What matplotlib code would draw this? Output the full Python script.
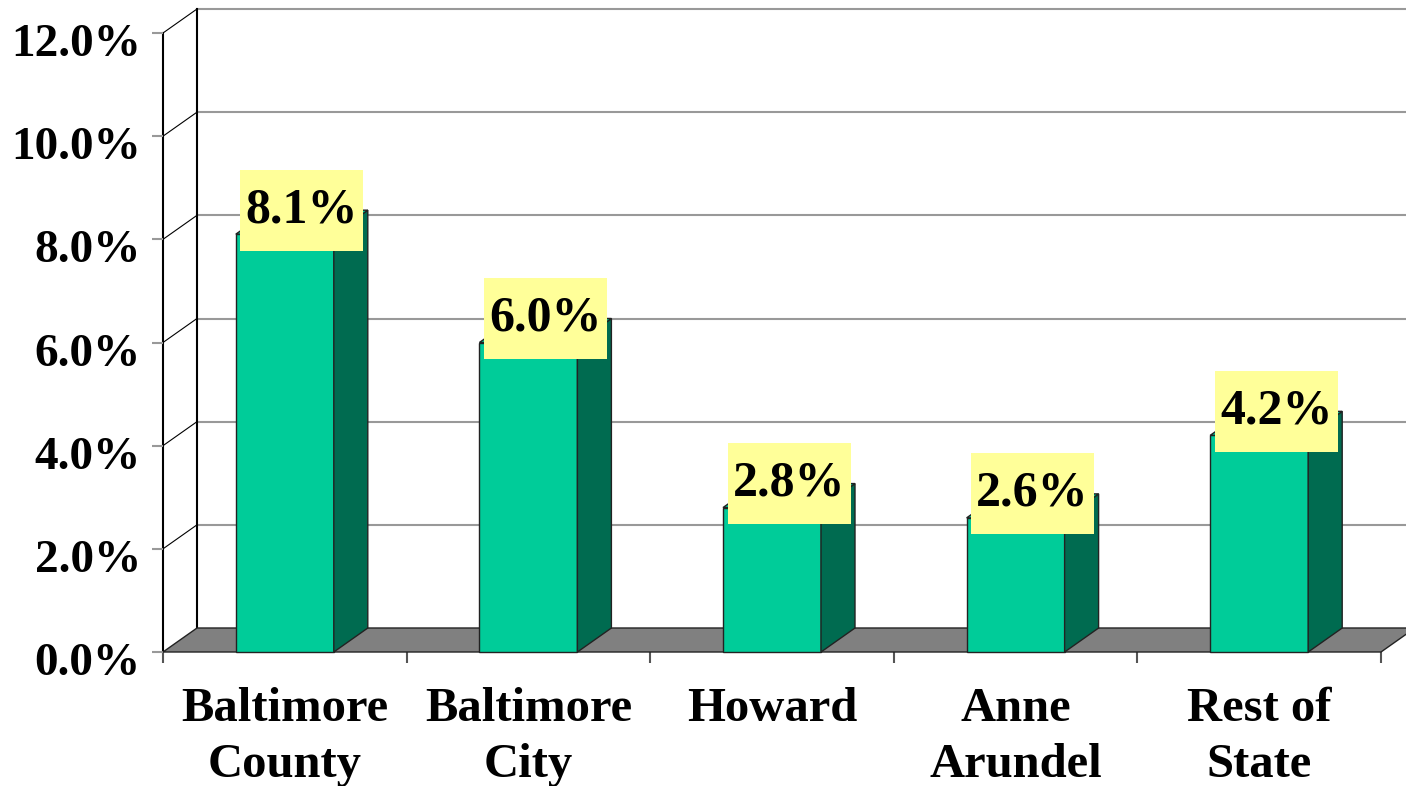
import matplotlib
matplotlib.use('Agg')
import matplotlib.pyplot as plt
from matplotlib.patches import Polygon, Rectangle
from matplotlib.transforms import ScaledTranslation
import numpy as np

# data
categories = ['Baltimore\nCounty', 'Baltimore\nCity', 'Howard', 'Anne\nArundel', 'Rest of\nState']
values = [8.1, 6.0, 2.8, 2.6, 4.2]
yticks = [0, 2, 4, 6, 8, 10, 12]

plt.rcParams['font.family'] = ['Liberation Serif', 'DejaVu Serif']
plt.rcParams['font.weight'] = 'bold'

W, H = 1406, 786
fig = plt.figure(figsize=(W / 100, H / 100), dpi=100)
left, right, bottom, top = 163, 1381, 652, 33
ax = fig.add_axes([left / W, (H - bottom) / H, (right - left) / W, (bottom - top) / H])
ax.set_xlim(0, 5)
ax.set_ylim(0, 12)
ax.patch.set_visible(False)
for s in ax.spines.values():
    s.set_visible(False)

# pixel -> data helpers for the fake 3d depth
PX = (right - left) / 5
PY = (bottom - top) / 12
DX = 34 / PX
DY = 24 / PY
BW = 98 / PX

grid_c = '#999999'
# back wall gridlines
for v in yticks[1:]:
    ax.plot([DX, 5 + DX + 0.3], [v + DY, v + DY], color=grid_c, lw=1.5, clip_on=False, zorder=1)
    ax.plot([0, DX], [v, v + DY], color='black', lw=0.8, clip_on=False, zorder=1)
ax.plot([DX, DX], [DY, 12 + DY], color='black', lw=1.5, clip_on=False, zorder=1)
ax.plot([0, 0], [0, 12], color='black', lw=1.5, clip_on=False, zorder=1)

# floor
floor = Polygon([(0, 0), (5, 0), (5 + DX, DY), (DX, DY)], closed=True,
                fc='#808080', ec='#222222', lw=1, clip_on=False, zorder=2)
ax.add_patch(floor)

# bars
front_c = '#00CC99'
side_c = '#006B50'
for i, v in enumerate(values):
    x0 = i + 0.5 - BW / 2
    x1 = x0 + BW
    ax.add_patch(Rectangle((x0, 0), BW, v, fc=front_c, ec='#222222', lw=1, clip_on=False, zorder=3))
    ax.add_patch(Polygon([(x1, 0), (x1 + DX, DY), (x1 + DX, v + DY), (x1, v)], closed=True,
                         fc=side_c, ec='#222222', lw=1, clip_on=False, zorder=3))
    ax.add_patch(Polygon([(x0, v), (x1, v), (x1 + DX, v + DY), (x0 + DX, v + DY)], closed=True,
                         fc=front_c, ec='#222222', lw=1, clip_on=False, zorder=3))
    # value label box
    cx = i + 0.5 + DX / 2
    cy = v + DY / 2 + 12 / PY
    bw, bh = 123 / PX, 81 / PY
    ax.add_patch(Rectangle((cx - bw / 2, cy - bh / 2), bw, bh, fc='#FFFF99', ec='none',
                           clip_on=False, zorder=5))
    ax.text(cx, cy, f'{v:.1f}%', ha='center', va='center', fontsize=36,
            fontweight='bold', zorder=6)

# axes ticks
ax.set_yticks(yticks)
ax.set_yticklabels([f'{v:.1f}%' for v in yticks], fontsize=34, fontweight='bold')
ax.tick_params(axis='y', length=8, width=1.5, color=grid_c, pad=8)
shift = ScaledTranslation(0, -7 / 100, fig.dpi_scale_trans)
for lab in ax.get_yticklabels():
    lab.set_transform(lab.get_transform() + shift)

ax.set_xticks(range(6))
ax.set_xticklabels([''] * 6)
ax.tick_params(axis='x', which='major', length=8, width=1.5, color='#555555')
ax.set_xticks(np.arange(5) + 0.5, minor=True)
ax.set_xticklabels(categories, minor=True, fontsize=35, fontweight='bold', linespacing=1.35)
ax.tick_params(axis='x', which='minor', length=0, pad=25)

fig.savefig('out.png', dpi=100)
